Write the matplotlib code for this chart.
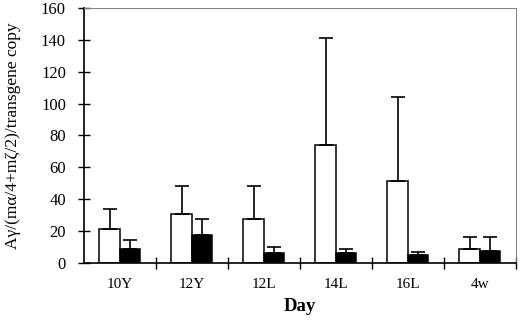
import matplotlib.pyplot as plt
import numpy as np

plt.rcParams['font.family'] = ['Liberation Serif', 'DejaVu Serif']

days = ['10Y', '12Y', '12L', '14L', '16L', '4w']
white_vals = [21, 30.5, 27.5, 74, 51.5, 8.5]
white_err = [13, 17.5, 20.5, 67, 52.5, 8]
black_vals = [8.5, 17.5, 6.5, 6.5, 5, 7.5]
black_err = [6, 10, 3.5, 2.5, 2, 9]

x = np.arange(len(days))
w = 0.285

fig = plt.figure(figsize=(5.2, 3.23), dpi=100)
ax = fig.add_axes([0.1615, 0.186, 0.8305, 0.789])

ax.bar(x - w/2, white_vals, w, color='white', edgecolor='black', linewidth=1.1,
       yerr=[np.zeros(len(days)), white_err], capsize=5,
       error_kw={'elinewidth': 1.2, 'capthick': 1.2, 'ecolor': 'black'})
ax.bar(x + w/2, black_vals, w, color='black', edgecolor='black', linewidth=1.1,
       yerr=[np.zeros(len(days)), black_err], capsize=5,
       error_kw={'elinewidth': 1.2, 'capthick': 1.2, 'ecolor': 'black'})

ax.set_xlim(-0.5, len(days) - 0.5)
ax.set_ylim(0, 160)
ax.set_yticks(range(0, 161, 20))
ax.tick_params(axis='y', direction='inout', length=8, width=1.0, labelsize=12, pad=9)

ax.set_xticks(x)
ax.set_xticklabels(days, fontsize=11)
ax.set_xticks(np.arange(0.5, len(days), 1), minor=True)
ax.tick_params(axis='x', which='major', length=0, pad=11)
ax.tick_params(axis='x', which='minor', direction='inout', length=8, width=1.0)

ax.spines['left'].set_linewidth(1.2)
ax.spines['bottom'].set_linewidth(1.2)
ax.spines['top'].set_color('gray')
ax.spines['top'].set_linewidth(0.7)
ax.spines['right'].set_color('gray')
ax.spines['right'].set_linewidth(0.7)

ax.set_xlabel('Day', fontsize=13.5, fontweight='bold', labelpad=5)
ax.set_ylabel('Aγ/(mα/4+mζ/2)/transgene copy', fontsize=12.5, labelpad=14)

fig.savefig('out.png', dpi=100)
